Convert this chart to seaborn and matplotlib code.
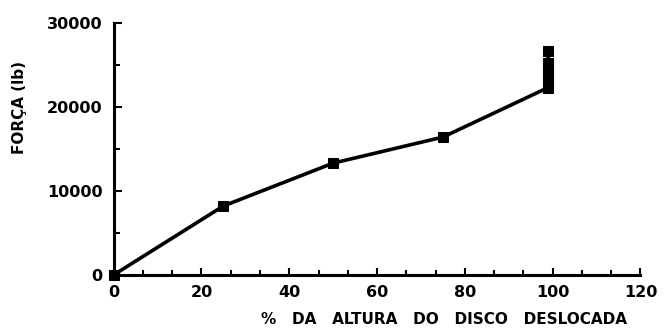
import matplotlib
matplotlib.use("Agg")
import matplotlib.pyplot as plt
from matplotlib.ticker import MultipleLocator, FixedLocator
import seaborn as sns
import pandas as pd

# Force required to displace the disc vs. percentage of disc height displaced
deslocamento = [0, 25, 50, 75, 99, 99, 99, 99, 99, 99, 99]
forca = [0, 8200, 13300, 16400, 22300, 22900, 23500, 24100, 24700, 25200, 26700]

x_ticks = [0, 20, 40, 60, 80, 100, 120]
y_ticks = [0, 10000, 20000, 30000]

df = pd.DataFrame({"desloc": deslocamento, "forca": forca})

sns.set_theme(style="ticks")
plt.rcParams["font.family"] = ["DejaVu Sans"]
plt.rcParams["font.weight"] = "bold"
plt.rcParams["text.color"] = "black"
plt.rcParams["xtick.color"] = "black"
plt.rcParams["ytick.color"] = "black"
plt.rcParams["axes.labelcolor"] = "black"

fig = plt.figure(figsize=(6.65, 3.36), dpi=100)
ax = fig.add_axes([0.171, 0.182, 0.792, 0.750])

sns.lineplot(data=df, x="desloc", y="forca", ax=ax, estimator=None, sort=False,
             color="black", linewidth=2.6, marker="s", markersize=6.5,
             markeredgecolor="black", markerfacecolor="black", clip_on=False)

ax.set_xlim(0, 120)
ax.set_ylim(0, 30000)
ax.xaxis.set_major_locator(FixedLocator(x_ticks))
ax.xaxis.set_minor_locator(MultipleLocator(20 / 3))
ax.yaxis.set_major_locator(FixedLocator(y_ticks))
ax.yaxis.set_minor_locator(MultipleLocator(5000))

ax.set_xticklabels([str(v) for v in x_ticks], fontsize=11.5, fontweight="bold")
ax.set_yticklabels([str(v) for v in y_ticks], fontsize=11.5, fontweight="bold")

ax.tick_params(axis="both", which="both", direction="in", color="black",
               labelcolor="black", width=1.5)
ax.tick_params(axis="x", which="major", length=5, pad=7)
ax.tick_params(axis="x", which="minor", length=3.5)
ax.tick_params(axis="y", which="major", length=6, pad=8)
ax.tick_params(axis="y", which="minor", length=4)

for side in ("top", "right"):
    ax.spines[side].set_visible(False)
for side in ("left", "bottom"):
    ax.spines[side].set_linewidth(2.2)
    ax.spines[side].set_color("black")

ax.set_xlabel("")
ax.set_ylabel("")
fig.text(0.668, 0.050, "%   DA   ALTURA   DO   DISCO   DESLOCADA",
         ha="center", va="center", fontsize=11, fontweight="bold", color="black")
fig.text(0.030, 0.68, "FORÇA (lb)", rotation=90, ha="center", va="center",
         fontsize=11, fontweight="bold", color="black")

fig.savefig("out.png", dpi=100, facecolor="white")
